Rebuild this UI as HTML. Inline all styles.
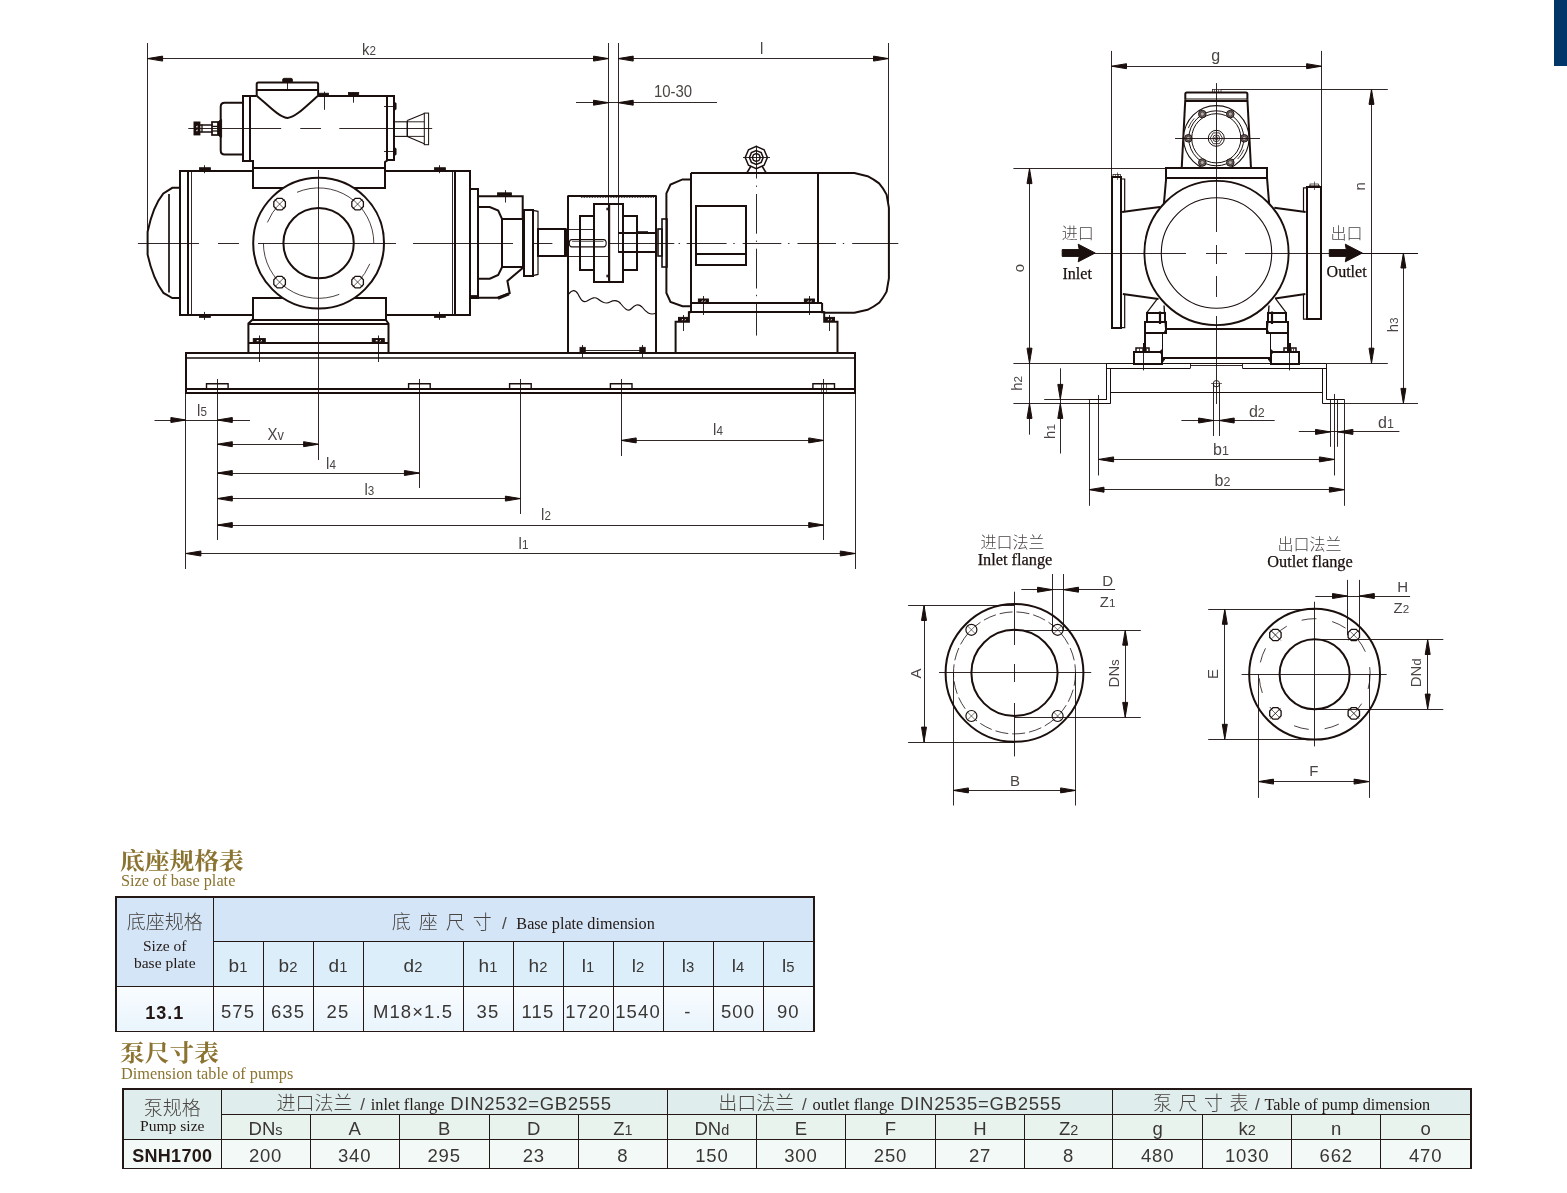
<!DOCTYPE html>
<html lang="zh-CN"><head><meta charset="utf-8"><title>SNH1700 泵尺寸表</title>
<style>
html,body{margin:0;padding:0;background:#fff;-webkit-font-smoothing:antialiased;}
body{width:1567px;height:1193px;position:relative;overflow:hidden;font-family:"Liberation Sans","Noto Sans CJK SC",sans-serif;}
#bar{position:absolute;left:1554px;top:0;width:13px;height:66px;background:#033668;}
svg#dwg{position:absolute;left:0;top:0;}
svg#dwg,table,.h1,.h2{will-change:transform;}
svg#dwg *{stroke:#1a0f0d;}
svg#dwg text,svg#dwg tspan{stroke:none;}
svg#dwg text.d{font-family:"Liberation Sans",sans-serif;fill:#4a4543;}
svg#dwg text.cj{font-family:"Liberation Sans","Noto Sans CJK SC",sans-serif;fill:#4a4543;font-weight:300;}
svg#dwg text.se{font-family:"Liberation Serif",serif;fill:#1a0f0d;stroke:#1a0f0d;stroke-width:0.25px;}
.h1{position:absolute;left:120px;font-family:"Liberation Serif","Noto Serif CJK SC",serif;font-weight:700;font-size:22.6px;line-height:25px;color:#8b7331;white-space:nowrap;transform:scaleX(1.095);transform-origin:0 0;}
.h2{position:absolute;left:121px;font-family:"Liberation Serif",serif;font-size:16.3px;line-height:17px;color:#8b7331;white-space:nowrap;}
table{position:absolute;border-collapse:collapse;table-layout:fixed;color:#2e2a29;}
td{border:1px solid #231815;padding:0;text-align:center;vertical-align:middle;font-size:19px;line-height:1;overflow:hidden;white-space:nowrap;color:#3a3634;}
td small{font-size:78%;}
.se{font-family:"Liberation Serif",serif;}
.cj{font-family:"Liberation Sans","Noto Sans CJK SC",sans-serif;font-weight:300;color:#4a4543;}
#t1{left:115px;top:896px;width:700px;border-top:2px solid #231815;border-left:2px solid #231815;border-right:2px solid #231815;}
#t1 .r1 td{background:#d3e5f6;}
#t1 .r2 td{background:#dceefa;}
#t1 .r3 td{background:linear-gradient(#f9fcff,#e9f4fc);}
#t2{left:122px;top:1088px;width:1350px;border-top:2px solid #231815;border-left:2px solid #231815;border-right:2px solid #231815;}
#t2 .r1 td{background:#dfeeec;}
#t2 .r2 td{background:#e9f3ee;}
#t2 .r3 td{background:#f3f9f6;}
</style></head>
<body>
<div id="bar"></div>
<svg id="dwg" width="1567" height="1193" viewBox="0 0 1567 1193" fill="none">
<g id="main-view">
<line x1="147.5" y1="43.0" x2="147.5" y2="243.0" stroke-width="0.9"/>
<line x1="608.5" y1="43.0" x2="608.5" y2="280.0" stroke-width="0.9"/>
<line x1="618.5" y1="43.0" x2="618.5" y2="252.3" stroke-width="0.9"/>
<line x1="888.5" y1="43.0" x2="888.5" y2="204.0" stroke-width="0.9"/>
<line x1="147.6" y1="58.5" x2="608.5" y2="58.5" stroke-width="0.9"/>
<polygon points="147.6,58.6 162.6,56.1 162.6,61.1" fill="#1a0f0d" stroke="none"/>
<polygon points="608.5,58.6 593.5,56.1 593.5,61.1" fill="#1a0f0d" stroke="none"/>
<line x1="618.2" y1="58.5" x2="888.5" y2="58.5" stroke-width="0.9"/>
<polygon points="618.2,58.6 633.2,56.1 633.2,61.1" fill="#1a0f0d" stroke="none"/>
<polygon points="888.5,58.6 873.5,56.1 873.5,61.1" fill="#1a0f0d" stroke="none"/>
<text transform="translate(369.0 54.5) scale(0.88 1)" font-size="17" text-anchor="middle" class="d">k<tspan font-size="78%">2</tspan></text>
<text transform="translate(761.6 54.0) scale(0.88 1)" font-size="17" text-anchor="middle" class="d">l</text>
<line x1="576.0" y1="102.5" x2="717.0" y2="102.5" stroke-width="0.9"/>
<polygon points="608.5,102.7 593.5,100.2 593.5,105.2" fill="#1a0f0d" stroke="none"/>
<polygon points="618.2,102.7 633.2,100.2 633.2,105.2" fill="#1a0f0d" stroke="none"/>
<text transform="translate(673.0 96.5) scale(0.88 1)" font-size="17" text-anchor="middle" class="d">10-30</text>
<path d="M179.2,187.8 L172.3,187.8 L163.4,193.4 Q153,206 147.6,231.7 L147.6,254.6 Q153,279 163.4,292.9 L172.3,298 L179.2,298" stroke-width="2.0" fill="none"/>
<line x1="169.0" y1="194.0" x2="169.0" y2="292.5" stroke-width="1.7"/>
<rect x="180.0" y="171.0" width="8.0" height="144.0" stroke-width="2.0" fill="none"/>
<line x1="191.5" y1="170.9" x2="191.5" y2="314.6" stroke-width="0.9"/>
<line x1="188.4" y1="171.0" x2="253.0" y2="171.0" stroke-width="2.0"/>
<line x1="385.0" y1="171.0" x2="455.3" y2="171.0" stroke-width="2.0"/>
<line x1="188.4" y1="315.0" x2="253.0" y2="315.0" stroke-width="2.0"/>
<line x1="385.0" y1="315.0" x2="455.3" y2="315.0" stroke-width="2.0"/>
<line x1="452.5" y1="170.9" x2="452.5" y2="314.6" stroke-width="0.9"/>
<rect x="455.0" y="171.0" width="15.0" height="144.0" stroke-width="2.0" fill="none"/>
<rect x="199.4" y="167.7" width="11.0" height="3.0" stroke-width="0.8" fill="#1a0f0d"/>
<line x1="204.5" y1="165.2" x2="204.5" y2="173.2" stroke-width="0.9"/>
<rect x="199.4" y="314.4" width="11.0" height="3.0" stroke-width="0.8" fill="#1a0f0d"/>
<line x1="204.5" y1="311.9" x2="204.5" y2="319.9" stroke-width="0.9"/>
<rect x="434.4" y="167.7" width="11.0" height="3.0" stroke-width="0.8" fill="#1a0f0d"/>
<line x1="439.5" y1="165.2" x2="439.5" y2="173.2" stroke-width="0.9"/>
<rect x="434.4" y="314.4" width="11.0" height="3.0" stroke-width="0.8" fill="#1a0f0d"/>
<line x1="439.5" y1="311.9" x2="439.5" y2="319.9" stroke-width="0.9"/>
<rect x="253.0" y="168.0" width="132.0" height="20.0" stroke-width="2.0" fill="none"/>
<rect x="253.0" y="298.0" width="133.0" height="22.0" stroke-width="2.0" fill="none"/>
<path d="M252.7,319.5 L248.4,323.5 L248.4,352.5" stroke-width="2.0" fill="none"/>
<path d="M385.5,319.5 L388.5,323.5 L388.5,352.5" stroke-width="2.0" fill="none"/>
<line x1="248.4" y1="324.0" x2="388.5" y2="324.0" stroke-width="2.0"/>
<line x1="248.4" y1="343.0" x2="388.5" y2="343.0" stroke-width="2.0"/>
<rect x="253.3" y="338.6" width="12.0" height="3.9" stroke-width="1.0" fill="#1a0f0d"/>
<rect x="256.7" y="340.0" width="1.9" height="1.3" stroke-width="0.1" fill="#fff"/>
<rect x="260.0" y="340.0" width="1.9" height="1.3" stroke-width="0.1" fill="#fff"/>
<line x1="259.5" y1="335.5" x2="259.5" y2="362.0" stroke-width="0.9"/>
<rect x="372.3" y="338.6" width="12.0" height="3.9" stroke-width="1.0" fill="#1a0f0d"/>
<rect x="375.7" y="340.0" width="1.9" height="1.3" stroke-width="0.1" fill="#fff"/>
<rect x="379.0" y="340.0" width="1.9" height="1.3" stroke-width="0.1" fill="#fff"/>
<line x1="378.5" y1="335.5" x2="378.5" y2="362.0" stroke-width="0.9"/>
<circle cx="318.6" cy="243.1" r="65.4" stroke-width="2.0" fill="#fff"/>
<circle cx="318.6" cy="243.1" r="35.2" stroke-width="2.0" fill="none"/>
<path d="M297.0,192.3 A55.2,55.2 0 0 1 373.8,243.1" stroke-width="0.8" fill="none"/>
<path d="M267.4,222.4 A55.2,55.2 0 0 1 279.6,204.1" stroke-width="0.8" fill="none"/>
<path d="M339.3,294.3 A55.2,55.2 0 0 1 263.4,243.1" stroke-width="0.8" fill="none"/>
<path d="M369.8,263.8 A55.2,55.2 0 0 1 357.6,282.1" stroke-width="0.8" fill="none"/>
<path d="M285.4,206.5 L282.0,209.9 L277.2,209.9 L273.8,206.5 L273.8,201.7 L277.2,198.3 L282.0,198.3 L285.4,201.7 Z" stroke-width="1.3" fill="#fff"/>
<line x1="274.6" y1="199.1" x2="284.6" y2="209.1" stroke-width="0.7"/>
<line x1="274.6" y1="209.1" x2="284.6" y2="199.1" stroke-width="0.7"/>
<path d="M285.4,284.5 L282.0,287.9 L277.2,287.9 L273.8,284.5 L273.8,279.7 L277.2,276.3 L282.0,276.3 L285.4,279.7 Z" stroke-width="1.3" fill="#fff"/>
<line x1="274.6" y1="277.1" x2="284.6" y2="287.1" stroke-width="0.7"/>
<line x1="274.6" y1="287.1" x2="284.6" y2="277.1" stroke-width="0.7"/>
<path d="M363.4,206.5 L360.0,209.9 L355.2,209.9 L351.8,206.5 L351.8,201.7 L355.2,198.3 L360.0,198.3 L363.4,201.7 Z" stroke-width="1.3" fill="#fff"/>
<line x1="352.6" y1="199.1" x2="362.6" y2="209.1" stroke-width="0.7"/>
<line x1="352.6" y1="209.1" x2="362.6" y2="199.1" stroke-width="0.7"/>
<path d="M363.4,284.5 L360.0,287.9 L355.2,287.9 L351.8,284.5 L351.8,279.7 L355.2,276.3 L360.0,276.3 L363.4,279.7 Z" stroke-width="1.3" fill="#fff"/>
<line x1="352.6" y1="277.1" x2="362.6" y2="287.1" stroke-width="0.7"/>
<line x1="352.6" y1="287.1" x2="362.6" y2="277.1" stroke-width="0.7"/>
<line x1="318.5" y1="170.0" x2="318.5" y2="460.0" stroke-width="0.9"/>
<line x1="137.9" y1="243.5" x2="199.0" y2="243.5" stroke-width="0.9"/>
<line x1="218.0" y1="243.5" x2="239.0" y2="243.5" stroke-width="0.9"/>
<line x1="258.0" y1="243.5" x2="396.0" y2="243.5" stroke-width="0.9"/>
<line x1="413.0" y1="243.5" x2="513.0" y2="243.5" stroke-width="0.9"/>
<line x1="533.0" y1="243.5" x2="552.4" y2="243.5" stroke-width="0.9"/>
<line x1="608.4" y1="243.5" x2="674.3" y2="243.5" stroke-width="0.9"/>
<line x1="678.6" y1="243.5" x2="680.0" y2="243.5" stroke-width="0.9"/>
<line x1="686.7" y1="243.5" x2="726.6" y2="243.5" stroke-width="0.9"/>
<line x1="733.3" y1="243.5" x2="734.7" y2="243.5" stroke-width="0.9"/>
<line x1="742.7" y1="243.5" x2="781.3" y2="243.5" stroke-width="0.9"/>
<line x1="788.1" y1="243.5" x2="789.5" y2="243.5" stroke-width="0.9"/>
<line x1="797.5" y1="243.5" x2="836.0" y2="243.5" stroke-width="0.9"/>
<line x1="842.8" y1="243.5" x2="844.2" y2="243.5" stroke-width="0.9"/>
<line x1="852.2" y1="243.5" x2="898.3" y2="243.5" stroke-width="0.9"/>
<line x1="188.3" y1="128.5" x2="281.2" y2="128.5" stroke-width="0.9"/>
<line x1="300.3" y1="128.5" x2="321.0" y2="128.5" stroke-width="0.9"/>
<line x1="339.3" y1="128.5" x2="432.2" y2="128.5" stroke-width="0.9"/>
<rect x="282.6" y="78.3" width="9.9" height="4.1" stroke-width="0.8" fill="#1a0f0d" rx="1.5"/>
<path d="M256.7,95.7 L256.7,84 Q256.7,82.4 258.3,82.4 L316.5,82.4 Q318.1,82.4 318.1,84 L318.1,95.7" stroke-width="2.0" fill="none"/>
<line x1="256.7" y1="90.0" x2="318.1" y2="90.0" stroke-width="2.0"/>
<line x1="287.5" y1="82.4" x2="287.5" y2="89.9" stroke-width="0.9"/>
<path d="M256.7,95.7 C268,105 278,116.5 287.4,118.1 C297,116.5 307,105 318.1,95.7" stroke-width="2.0" fill="none"/>
<rect x="243.0" y="96.0" width="7.0" height="65.0" stroke-width="2.0" fill="none"/>
<line x1="250.5" y1="96.0" x2="256.7" y2="96.0" stroke-width="2.0"/>
<line x1="318.1" y1="96.0" x2="387.4" y2="96.0" stroke-width="2.0"/>
<path d="M250.5,160.9 L253.0,160.9 L253.0,167.9" stroke-width="2.0" fill="none"/>
<path d="M387.4,160.4 L385.0,162.0 L385.0,167.9" stroke-width="2.0" fill="none"/>
<line x1="387.0" y1="95.7" x2="387.0" y2="160.4" stroke-width="2.0"/>
<rect x="387.0" y="96.0" width="7.0" height="64.0" stroke-width="2.0" fill="none"/>
<line x1="384.0" y1="106.5" x2="396.0" y2="106.5" stroke-width="0.9"/>
<rect x="394.4" y="102.7" width="1.8" height="7.0" stroke-width="0.6" fill="#1a0f0d" rx="0.8"/>
<line x1="384.0" y1="151.5" x2="396.0" y2="151.5" stroke-width="0.9"/>
<rect x="394.4" y="148.1" width="1.8" height="7.0" stroke-width="0.6" fill="#1a0f0d" rx="0.8"/>
<rect x="318.6" y="93.2" width="9.9" height="2.5" stroke-width="0.8" fill="#1a0f0d"/>
<line x1="324.5" y1="91.6" x2="324.5" y2="109.8" stroke-width="0.9"/>
<rect x="348.4" y="92.4" width="10.3" height="3.3" stroke-width="0.8" fill="#1a0f0d"/>
<line x1="353.5" y1="92.4" x2="353.5" y2="102.7" stroke-width="0.9"/>
<line x1="351.5" y1="94.5" x2="355.5" y2="94.5" stroke-width="0.9"/>
<path d="M242.6,102.7 L224.7,102.7 Q220.7,102.7 220.7,106.7 L220.7,150.6 Q220.7,154.6 224.7,154.6 L242.6,154.6" stroke-width="2.0" fill="none"/>
<rect x="194.3" y="122.3" width="5.3" height="12.3" stroke-width="1.6" fill="#1a0f0d"/>
<rect x="196.2" y="125.6" width="1.4" height="1.8" stroke-width="0.1" fill="#fff"/>
<rect x="196.2" y="129.4" width="1.4" height="1.8" stroke-width="0.1" fill="#fff"/>
<line x1="199.6" y1="125.0" x2="212.4" y2="125.0" stroke-width="1.5"/>
<line x1="199.6" y1="132.0" x2="212.4" y2="132.0" stroke-width="1.5"/>
<line x1="202.0" y1="124.6" x2="202.0" y2="132.2" stroke-width="1.3"/>
<rect x="212.0" y="122.0" width="6.0" height="13.0" stroke-width="1.7" fill="none"/>
<line x1="212.4" y1="126.4" x2="218.4" y2="126.4" stroke-width="1.3"/>
<line x1="212.4" y1="131.0" x2="218.4" y2="131.0" stroke-width="1.3"/>
<path d="M218.0,122.1 L220.6,119.6 L221.6,119.6 L221.6,137.2 L220.6,137.2 L218.0,134.9 Z" stroke-width="0.8" fill="#1a0f0d"/>
<rect x="394.4" y="121.8" width="12.9" height="14.6" stroke-width="1.1" fill="none"/>
<path d="M407.3,120.6 L424.3,113.5" stroke-width="1.1" fill="none"/>
<path d="M407.3,136.4 L424.3,143.8" stroke-width="1.1" fill="none"/>
<line x1="407.3" y1="120.6" x2="407.3" y2="136.4" stroke-width="1.2"/>
<path d="M407.3,121.8 L424.3,121.8 M407.3,136.4 L424.3,136.4" stroke-width="0.9" fill="none"/>
<rect x="424.3" y="113.1" width="4.3" height="31.6" stroke-width="1.0" fill="none"/>
<rect x="470.0" y="189.0" width="8.0" height="109.0" stroke-width="2.0" fill="none"/>
<rect x="470.2" y="295.5" width="7.8" height="2.3" stroke-width="0.8" fill="#1a0f0d"/>
<path d="M478.0,196.3 L522.7,196.3 L522.7,218.9" stroke-width="2.0" fill="none"/>
<rect x="502.0" y="219.0" width="21.0" height="48.0" stroke-width="2.0" fill="none"/>
<path d="M478,207 L489.8,207 L498.2,210.5 L502,218.9 M502,267.2 L498.2,274.9 L489.8,278.7 L478,278.7" stroke-width="2.0" fill="none"/>
<path d="M478.0,297.8 L497.4,297.8 L509.7,293.2 L507.4,281.0 L522.7,267.9" stroke-width="2.0" fill="none"/>
<path d="M498,298.3 L509,293.8" stroke-width="3" fill="none"/>
<rect x="497.5" y="192.8" width="14.0" height="2.8" stroke-width="0.8" fill="#1a0f0d"/>
<line x1="505.5" y1="190.2" x2="505.5" y2="202.5" stroke-width="0.9"/>
<line x1="500.0" y1="194.5" x2="510.0" y2="194.5" stroke-width="0.9"/>
<rect x="524.0" y="210.0" width="9.0" height="66.0" stroke-width="2.0" fill="none"/>
<path d="M532.7,210.3 L538.0,211.3 L538.0,274.4 L532.7,275.6" stroke-width="1.2" fill="none"/>
<rect x="538.0" y="229.0" width="27.0" height="27.0" stroke-width="2.0" fill="none"/>
<rect x="564.8" y="228.9" width="3.1" height="27.5" stroke-width="1" fill="#1a0f0d"/>
<line x1="568.0" y1="195.5" x2="568.0" y2="352.5" stroke-width="2.0"/>
<line x1="656.0" y1="195.5" x2="656.0" y2="352.5" stroke-width="2.0"/>
<line x1="567.9" y1="196.0" x2="656.3" y2="196.0" stroke-width="2.0"/>
<line x1="581.0" y1="197.5" x2="654.0" y2="197.5" stroke-width="0.9" stroke-dasharray="0.8 0.8"/>
<rect x="580.0" y="216.0" width="14.0" height="54.0" stroke-width="2.0" fill="none"/>
<rect x="594.0" y="204.0" width="29.0" height="78.0" stroke-width="2.0" fill="none"/>
<rect x="608.3" y="203.9" width="1.6" height="77.8" stroke-width="0.6" fill="#1a0f0d"/>
<rect x="623.0" y="216.0" width="14.0" height="54.0" stroke-width="2.0" fill="none"/>
<line x1="567.9" y1="229.5" x2="593.9" y2="229.5" stroke-width="0.9"/>
<line x1="567.9" y1="256.5" x2="608.0" y2="256.5" stroke-width="0.9"/>
<path d="M571.8,239.6 L603.5,239.6 Q606.2,239.6 606.2,243.3 Q606.2,246.9 603.5,246.9 L571.8,246.9 Q569.3,246.9 569.3,243.3 Q569.3,239.6 571.8,239.6 Z" stroke-width="1.1" fill="none"/>
<line x1="572.0" y1="241.5" x2="603.5" y2="241.5" stroke-width="0.6"/>
<line x1="618.2" y1="233.0" x2="656.3" y2="233.0" stroke-width="2.0"/>
<line x1="618.2" y1="252.0" x2="656.3" y2="252.0" stroke-width="2.0"/>
<line x1="637.3" y1="232.0" x2="648.0" y2="232.0" stroke-width="1.6"/>
<rect x="606.8" y="208.0" width="1.0" height="2.0" stroke-width="0.6" fill="#1a0f0d"/>
<rect x="606.8" y="275.0" width="1.0" height="2.0" stroke-width="0.6" fill="#1a0f0d"/>
<line x1="609.5" y1="256.0" x2="609.5" y2="281.0" stroke-width="0.6"/>
<path d="M568.6,294 C572,290 575,289 578,294 C581,300 583,303 587,301 C591,299 594,296 598,299 C603,303 606,304 610,302 C614,300 618,300 621,304 C625,309 628,312 631,309 C635,305 638,303 642,307 C646,312 650,316 656.3,313" stroke-width="1.2" fill="none"/>
<line x1="582.0" y1="350.5" x2="642.0" y2="350.5" stroke-width="0.9"/>
<rect x="579.9" y="347.2" width="5.6" height="5.1" stroke-width="0.6" fill="#1a0f0d"/>
<line x1="582.5" y1="345.0" x2="582.5" y2="357.5" stroke-width="0.9"/>
<rect x="639.7" y="347.2" width="5.6" height="5.1" stroke-width="0.6" fill="#1a0f0d"/>
<line x1="642.5" y1="345.0" x2="642.5" y2="357.5" stroke-width="0.9"/>
<rect x="658.0" y="229.0" width="4.0" height="27.0" stroke-width="1.6" fill="none"/>
<rect x="662.0" y="219.0" width="5.0" height="48.0" stroke-width="1.6" fill="none"/>
<path d="M690.9,179.4 L682.5,179.4 L670.5,184.5 L666.4,193.4 L666.4,293 L670.5,301.9 L682.5,306.2 L690.9,306.2" stroke-width="2.0" fill="none"/>
<path d="M690.9,173 L854.4,173 L867.6,176.2 Q874,179.5 879.1,183.4 Q883.5,188.5 886.6,194.6 L888.9,207.8 L888.9,278.4 L886.6,291.6 Q883.5,297.5 879.1,302.8 Q874,306.8 867.6,309.8 L854.4,312.8 L824.2,312.8" stroke-width="2.0" fill="none" stroke-linejoin="round"/>
<line x1="691.0" y1="173.0" x2="691.0" y2="312.8" stroke-width="2.0"/>
<line x1="818.0" y1="173.0" x2="818.0" y2="303.0" stroke-width="2.0"/>
<line x1="690.9" y1="303.0" x2="822.1" y2="303.0" stroke-width="2.0"/>
<path d="M690.9,312.3 L688.9,312.3 L688.9,321.7 L675.6,321.7 L675.6,352.5" stroke-width="2.0" fill="none"/>
<path d="M822.1,303.0 L822.1,312.3 L824.2,312.3 L824.2,321.7 L837.5,321.7 L837.5,352.5" stroke-width="2.0" fill="none"/>
<line x1="688.9" y1="312.0" x2="824.2" y2="312.0" stroke-width="2.0"/>
<rect x="696.0" y="206.0" width="50.0" height="59.0" stroke-width="2.0" fill="none"/>
<line x1="695.5" y1="254.0" x2="746.3" y2="254.0" stroke-width="2.0"/>
<rect x="698.4" y="299.0" width="10.0" height="3.8" stroke-width="1.0" fill="#1a0f0d"/>
<rect x="701.2" y="300.4" width="1.6" height="1.2" stroke-width="0.1" fill="#fff"/>
<rect x="704.0" y="300.4" width="1.6" height="1.2" stroke-width="0.1" fill="#fff"/>
<line x1="703.5" y1="296.0" x2="703.5" y2="315.0" stroke-width="0.9"/>
<rect x="804.4" y="299.0" width="10.0" height="3.8" stroke-width="1.0" fill="#1a0f0d"/>
<rect x="807.2" y="300.4" width="1.6" height="1.2" stroke-width="0.1" fill="#fff"/>
<rect x="810.0" y="300.4" width="1.6" height="1.2" stroke-width="0.1" fill="#fff"/>
<line x1="809.5" y1="296.0" x2="809.5" y2="315.0" stroke-width="0.9"/>
<rect x="678.5" y="317.4" width="10.0" height="4.1" stroke-width="1.0" fill="#1a0f0d"/>
<rect x="681.3" y="319.0" width="1.6" height="1.2" stroke-width="0.1" fill="#fff"/>
<rect x="684.1" y="319.0" width="1.6" height="1.2" stroke-width="0.1" fill="#fff"/>
<line x1="683.5" y1="315.0" x2="683.5" y2="331.0" stroke-width="0.9"/>
<rect x="824.5" y="317.4" width="10.0" height="4.1" stroke-width="1.0" fill="#1a0f0d"/>
<rect x="827.3" y="319.0" width="1.6" height="1.2" stroke-width="0.1" fill="#fff"/>
<rect x="830.1" y="319.0" width="1.6" height="1.2" stroke-width="0.1" fill="#fff"/>
<line x1="829.5" y1="315.0" x2="829.5" y2="331.0" stroke-width="0.9"/>
<path d="M756.3,146.4 L764.1,149.7 L767.4,157.5 L764.1,165.3 L756.3,168.6 L748.5,165.3 L745.2,157.5 L748.5,149.7 Z" stroke-width="1.5" fill="none"/>
<path d="M756.3,150.6 L761.2,152.6 L763.2,157.5 L761.2,162.4 L756.3,164.4 L751.4,162.4 L749.4,157.5 L751.4,152.6 Z" stroke-width="1.5" fill="none"/>
<path d="M756.3,153.5 L759.1,154.7 L760.3,157.5 L759.1,160.3 L756.3,161.5 L753.5,160.3 L752.3,157.5 L753.5,154.7 Z" stroke-width="1.4" fill="none"/>
<line x1="743.0" y1="157.5" x2="770.0" y2="157.5" stroke-width="0.9"/>
<path d="M751.0,166.0 L746.5,173.5" stroke-width="1.5" fill="none"/>
<path d="M762.0,166.0 L766.5,173.5" stroke-width="1.5" fill="none"/>
<line x1="756.5" y1="145.7" x2="756.5" y2="178.5" stroke-width="0.9"/>
<line x1="756.5" y1="185.6" x2="756.5" y2="186.9" stroke-width="0.9"/>
<line x1="756.5" y1="194.0" x2="756.5" y2="233.7" stroke-width="0.9"/>
<line x1="756.5" y1="240.6" x2="756.5" y2="241.9" stroke-width="0.9"/>
<line x1="756.5" y1="248.7" x2="756.5" y2="288.5" stroke-width="0.9"/>
<line x1="756.5" y1="294.8" x2="756.5" y2="296.2" stroke-width="0.9"/>
<line x1="756.5" y1="303.5" x2="756.5" y2="335.6" stroke-width="0.9"/>
<rect x="186.0" y="353.0" width="669.0" height="40.0" stroke-width="2.0" fill="none"/>
<line x1="185.9" y1="358.0" x2="855.3" y2="358.0" stroke-width="1.6"/>
<line x1="185.9" y1="389.0" x2="855.3" y2="389.0" stroke-width="2.0"/>
<path d="M206.5,388.8 L206.5,383.7 L228.1,383.7 L228.1,388.8" stroke-width="1.4" fill="none"/>
<path d="M408.6,388.8 L408.6,383.7 L430.2,383.7 L430.2,388.8" stroke-width="1.4" fill="none"/>
<path d="M509.6,388.8 L509.6,383.7 L531.2,383.7 L531.2,388.8" stroke-width="1.4" fill="none"/>
<path d="M610.4,388.8 L610.4,383.7 L632.0,383.7 L632.0,388.8" stroke-width="1.4" fill="none"/>
<path d="M812.9,388.8 L812.9,383.7 L834.5,383.7 L834.5,388.8" stroke-width="1.4" fill="none"/>
<line x1="821.5" y1="384.0" x2="821.5" y2="392.0" stroke-width="0.6"/>
<line x1="826.5" y1="384.0" x2="826.5" y2="392.0" stroke-width="0.6"/>
<line x1="185.5" y1="392.7" x2="185.5" y2="569.0" stroke-width="0.9"/>
<line x1="855.5" y1="392.7" x2="855.5" y2="569.0" stroke-width="0.9"/>
<line x1="217.5" y1="379.0" x2="217.5" y2="540.0" stroke-width="0.9"/>
<line x1="823.5" y1="379.0" x2="823.5" y2="540.0" stroke-width="0.9"/>
<line x1="419.5" y1="379.0" x2="419.5" y2="488.0" stroke-width="0.9"/>
<line x1="520.5" y1="379.0" x2="520.5" y2="514.0" stroke-width="0.9"/>
<line x1="621.5" y1="379.0" x2="621.5" y2="456.0" stroke-width="0.9"/>
<line x1="154.5" y1="420.5" x2="250.0" y2="420.5" stroke-width="0.9"/>
<polygon points="185.9,420.0 170.9,417.5 170.9,422.5" fill="#1a0f0d" stroke="none"/>
<polygon points="217.3,420.0 232.3,417.5 232.3,422.5" fill="#1a0f0d" stroke="none"/>
<text transform="translate(202.0 416.0) scale(0.88 1)" font-size="17" text-anchor="middle" class="d">l<tspan font-size="78%">5</tspan></text>
<line x1="217.3" y1="444.5" x2="318.6" y2="444.5" stroke-width="0.9"/>
<polygon points="217.3,444.2 232.3,441.7 232.3,446.7" fill="#1a0f0d" stroke="none"/>
<polygon points="318.6,444.2 303.6,441.7 303.6,446.7" fill="#1a0f0d" stroke="none"/>
<text transform="translate(275.7 440.0) scale(0.88 1)" font-size="17" text-anchor="middle" class="d">X<tspan font-size="85%">v</tspan></text>
<line x1="217.3" y1="473.5" x2="419.4" y2="473.5" stroke-width="0.9"/>
<polygon points="217.3,473.0 232.3,470.5 232.3,475.5" fill="#1a0f0d" stroke="none"/>
<polygon points="419.4,473.0 404.4,470.5 404.4,475.5" fill="#1a0f0d" stroke="none"/>
<text transform="translate(331.0 468.5) scale(0.88 1)" font-size="17" text-anchor="middle" class="d">l<tspan font-size="78%">4</tspan></text>
<line x1="217.3" y1="498.5" x2="520.4" y2="498.5" stroke-width="0.9"/>
<polygon points="217.3,498.6 232.3,496.1 232.3,501.1" fill="#1a0f0d" stroke="none"/>
<polygon points="520.4,498.6 505.4,496.1 505.4,501.1" fill="#1a0f0d" stroke="none"/>
<text transform="translate(369.4 494.5) scale(0.88 1)" font-size="17" text-anchor="middle" class="d">l<tspan font-size="78%">3</tspan></text>
<line x1="217.3" y1="525.5" x2="823.7" y2="525.5" stroke-width="0.9"/>
<polygon points="217.3,525.0 232.3,522.5 232.3,527.5" fill="#1a0f0d" stroke="none"/>
<polygon points="823.7,525.0 808.7,522.5 808.7,527.5" fill="#1a0f0d" stroke="none"/>
<text transform="translate(546.0 520.0) scale(0.88 1)" font-size="17" text-anchor="middle" class="d">l<tspan font-size="78%">2</tspan></text>
<line x1="185.9" y1="553.5" x2="855.3" y2="553.5" stroke-width="0.9"/>
<polygon points="185.9,553.5 200.9,551.0 200.9,556.0" fill="#1a0f0d" stroke="none"/>
<polygon points="855.3,553.5 840.3,551.0 840.3,556.0" fill="#1a0f0d" stroke="none"/>
<text transform="translate(523.5 549.0) scale(0.88 1)" font-size="17" text-anchor="middle" class="d">l<tspan font-size="78%">1</tspan></text>
<line x1="621.2" y1="440.5" x2="823.7" y2="440.5" stroke-width="0.9"/>
<polygon points="621.2,440.4 636.2,437.9 636.2,442.9" fill="#1a0f0d" stroke="none"/>
<polygon points="823.7,440.4 808.7,437.9 808.7,442.9" fill="#1a0f0d" stroke="none"/>
<text transform="translate(718.0 435.0) scale(0.88 1)" font-size="17" text-anchor="middle" class="d">l<tspan font-size="78%">4</tspan></text>
</g>
<g id="end-view">
<line x1="1111.5" y1="50.9" x2="1111.5" y2="177.0" stroke-width="0.9"/>
<line x1="1321.5" y1="50.9" x2="1321.5" y2="186.0" stroke-width="0.9"/>
<line x1="1111.5" y1="66.5" x2="1321.6" y2="66.5" stroke-width="0.9"/>
<polygon points="1111.5,66.2 1126.5,63.7 1126.5,68.7" fill="#1a0f0d" stroke="none"/>
<polygon points="1321.6,66.2 1306.6,63.7 1306.6,68.7" fill="#1a0f0d" stroke="none"/>
<text transform="translate(1215.8 60.5)" font-size="16" text-anchor="middle" class="d">g</text>
<line x1="1221.0" y1="89.5" x2="1387.8" y2="89.5" stroke-width="0.9"/>
<line x1="1371.5" y1="89.4" x2="1371.5" y2="363.2" stroke-width="0.9"/>
<polygon points="1371.5,89.4 1369.0,104.4 1374.0,104.4" fill="#1a0f0d" stroke="none"/>
<polygon points="1371.5,363.2 1369.0,348.2 1374.0,348.2" fill="#1a0f0d" stroke="none"/>
<text transform="translate(1365.0 186.3) rotate(-90)" font-size="15" text-anchor="middle" class="d">n</text>
<line x1="1013.4" y1="168.5" x2="1166.0" y2="168.5" stroke-width="0.9"/>
<line x1="1013.4" y1="363.5" x2="1107.0" y2="363.5" stroke-width="0.9"/>
<line x1="1326.5" y1="363.5" x2="1387.8" y2="363.5" stroke-width="0.9"/>
<line x1="1029.5" y1="168.6" x2="1029.5" y2="363.2" stroke-width="0.9"/>
<polygon points="1029.5,168.6 1027.0,183.6 1032.0,183.6" fill="#1a0f0d" stroke="none"/>
<polygon points="1029.5,363.2 1027.0,348.2 1032.0,348.2" fill="#1a0f0d" stroke="none"/>
<text transform="translate(1023.5 268.0) rotate(-90)" font-size="15" text-anchor="middle" class="d">o</text>
<line x1="1362.0" y1="253.5" x2="1418.0" y2="253.5" stroke-width="0.9"/>
<line x1="1344.4" y1="403.5" x2="1418.0" y2="403.5" stroke-width="0.9"/>
<line x1="1403.5" y1="253.0" x2="1403.5" y2="403.4" stroke-width="0.9"/>
<polygon points="1403.4,253.0 1400.9,268.0 1405.9,268.0" fill="#1a0f0d" stroke="none"/>
<polygon points="1403.4,403.4 1400.9,388.4 1405.9,388.4" fill="#1a0f0d" stroke="none"/>
<text transform="translate(1397.5 324.8) rotate(-90)" font-size="15" text-anchor="middle" class="d">h<tspan font-size="78%">3</tspan></text>
<line x1="1013.4" y1="403.5" x2="1110.4" y2="403.5" stroke-width="0.9"/>
<line x1="1029.5" y1="363.2" x2="1029.5" y2="434.7" stroke-width="0.9"/>
<polygon points="1029.5,403.4 1027.0,418.4 1032.0,418.4" fill="#1a0f0d" stroke="none"/>
<text transform="translate(1021.5 383.3) rotate(-90)" font-size="15" text-anchor="middle" class="d">h<tspan font-size="78%">2</tspan></text>
<line x1="1044.2" y1="399.5" x2="1107.0" y2="399.5" stroke-width="0.9"/>
<line x1="1060.5" y1="368.3" x2="1060.5" y2="453.5" stroke-width="0.9"/>
<polygon points="1060.3,399.4 1057.8,384.4 1062.8,384.4" fill="#1a0f0d" stroke="none"/>
<polygon points="1060.3,403.4 1057.8,418.4 1062.8,418.4" fill="#1a0f0d" stroke="none"/>
<text transform="translate(1054.5 431.5) rotate(-90)" font-size="15" text-anchor="middle" class="d">h<tspan font-size="78%">1</tspan></text>
<rect x="1212.5" y="89.4" width="8.5" height="3.1" stroke-width="0.7" fill="none"/>
<line x1="1214.5" y1="89.4" x2="1214.5" y2="92.5" stroke-width="0.6"/>
<line x1="1216.5" y1="89.4" x2="1216.5" y2="92.5" stroke-width="0.6"/>
<line x1="1218.5" y1="89.4" x2="1218.5" y2="92.5" stroke-width="0.6"/>
<path d="M1185.3,99.2 L1185.3,94 Q1185.3,92.5 1186.8,92.5 L1245.9,92.5 Q1247.4,92.5 1247.4,94 L1247.4,99.2" stroke-width="2.0" fill="none"/>
<line x1="1185.3" y1="99.0" x2="1247.4" y2="99.0" stroke-width="1.2"/>
<line x1="1185.3" y1="101.0" x2="1247.4" y2="101.0" stroke-width="2.0"/>
<path d="M1185.3,99.2 L1181.7,168.4" stroke-width="2.0" fill="none"/>
<path d="M1247.4,99.2 L1251.0,168.4" stroke-width="2.0" fill="none"/>
<circle cx="1216.3" cy="138.3" r="32.7" stroke-width="1.1" fill="#fff"/>
<circle cx="1216.3" cy="138.3" r="27.5" stroke-width="1.0" fill="none"/>
<circle cx="1216.3" cy="138.3" r="24.6" stroke-width="1.0" fill="none"/>
<circle cx="1244.3" cy="138.3" r="3.8" stroke-width="0.9" fill="#6b625f"/>
<circle cx="1244.3" cy="138.3" r="2.0" stroke-width="0.5" fill="#b5aeab"/>
<circle cx="1230.3" cy="162.5" r="3.8" stroke-width="0.9" fill="#6b625f"/>
<circle cx="1230.3" cy="162.5" r="2.0" stroke-width="0.5" fill="#b5aeab"/>
<circle cx="1202.3" cy="162.5" r="3.8" stroke-width="0.9" fill="#6b625f"/>
<circle cx="1202.3" cy="162.5" r="2.0" stroke-width="0.5" fill="#b5aeab"/>
<circle cx="1188.3" cy="138.3" r="3.8" stroke-width="0.9" fill="#6b625f"/>
<circle cx="1188.3" cy="138.3" r="2.0" stroke-width="0.5" fill="#b5aeab"/>
<circle cx="1202.3" cy="114.1" r="3.8" stroke-width="0.9" fill="#6b625f"/>
<circle cx="1202.3" cy="114.1" r="2.0" stroke-width="0.5" fill="#b5aeab"/>
<circle cx="1230.3" cy="114.1" r="3.8" stroke-width="0.9" fill="#6b625f"/>
<circle cx="1230.3" cy="114.1" r="2.0" stroke-width="0.5" fill="#b5aeab"/>
<path d="M1188.3,128.1 A29.8,29.8 0 0 1 1194.2,118.4" stroke-width="0.8" fill="none"/>
<path d="M1243.9,149.5 A29.8,29.8 0 0 1 1237.7,159.0" stroke-width="0.8" fill="none"/>
<circle cx="1216.3" cy="138.3" r="8.0" stroke-width="1.0" fill="none"/>
<circle cx="1216.3" cy="138.3" r="3.4" stroke-width="0.8" fill="none"/>
<circle cx="1216.3" cy="138.3" r="1.7" stroke-width="0.7" fill="none"/>
<path d="M1222.5,138.3 L1219.4,143.7 L1213.2,143.7 L1210.1,138.3 L1213.2,132.9 L1219.4,132.9 Z" stroke-width="0.8" fill="none"/>
<line x1="1175.0" y1="138.5" x2="1260.0" y2="138.5" stroke-width="0.9"/>
<rect x="1166.0" y="168.0" width="101.0" height="10.0" stroke-width="2.0" fill="#fff"/>
<path d="M1166.2,177.8 L1163.5,208.0" stroke-width="2.0" fill="none"/>
<path d="M1267.0,177.8 L1269.5,208.0" stroke-width="2.0" fill="none"/>
<rect x="1112.0" y="177.0" width="9.0" height="151.0" stroke-width="2.0" fill="none"/>
<path d="M1121.1,179 L1124.7,179 L1124.7,212 M1124.7,294 L1124.7,327.6 L1121.1,327.6" stroke-width="1.2" fill="none"/>
<rect x="1307.0" y="187.0" width="14.0" height="132.0" stroke-width="2.0" fill="none"/>
<path d="M1306.8,187.8 L1303.5,187.8 L1303.5,212.1 M1303.5,294.1 L1303.5,319.1 L1306.8,319.1" stroke-width="1.2" fill="none"/>
<rect x="1113.0" y="174.4" width="7.5" height="2.7" stroke-width="0.7" fill="none"/>
<line x1="1115.5" y1="174.4" x2="1115.5" y2="177.1" stroke-width="0.6"/>
<line x1="1118.5" y1="174.4" x2="1118.5" y2="177.1" stroke-width="0.6"/>
<line x1="1117.5" y1="172.5" x2="1117.5" y2="180.0" stroke-width="0.6"/>
<rect x="1310.0" y="184.0" width="8.5" height="3.1" stroke-width="0.7" fill="none"/>
<line x1="1314.5" y1="181.5" x2="1314.5" y2="190.0" stroke-width="0.6"/>
<line x1="1309.0" y1="185.5" x2="1320.0" y2="185.5" stroke-width="0.6"/>
<path d="M1122.1,212.0 L1160.0,207.0" stroke-width="2.0" fill="none"/>
<path d="M1122.8,294.0 L1158.5,299.0" stroke-width="2.0" fill="none"/>
<path d="M1305.6,212.1 L1274.3,207.8" stroke-width="2.0" fill="none"/>
<path d="M1305.4,294.1 L1275.0,298.4" stroke-width="2.0" fill="none"/>
<path d="M1157.1,299.1 L1146.7,312.9" stroke-width="1.2" fill="none"/>
<path d="M1164.0,305.5 L1165.7,329.0" stroke-width="1.4" fill="none"/>
<rect x="1147.0" y="313.0" width="18.0" height="9.0" stroke-width="2.0" fill="none"/>
<line x1="1160.0" y1="311.5" x2="1160.0" y2="324.0" stroke-width="2.2"/>
<rect x="1145.0" y="322.0" width="21.0" height="11.0" stroke-width="2.0" fill="none"/>
<line x1="1145.0" y1="332.8" x2="1145.0" y2="352.0" stroke-width="2.0"/>
<line x1="1144.0" y1="343.0" x2="1144.0" y2="352.0" stroke-width="2"/>
<line x1="1162.5" y1="332.8" x2="1162.5" y2="363.0" stroke-width="1.0"/>
<rect x="1134.0" y="352.0" width="28.0" height="12.0" stroke-width="2.0" fill="none"/>
<rect x="1136.0" y="348.0" width="13.0" height="4.0" stroke-width="1.5" fill="none"/>
<line x1="1139.5" y1="348.5" x2="1139.5" y2="352.0" stroke-width="0.7"/>
<line x1="1142.5" y1="348.5" x2="1142.5" y2="352.0" stroke-width="0.7"/>
<line x1="1146.5" y1="348.5" x2="1146.5" y2="352.0" stroke-width="0.7"/>
<line x1="1143.5" y1="344.3" x2="1143.5" y2="370.4" stroke-width="0.9"/>
<path d="M1165.9,328.7 L1164.0,333.5 L1165.9,333.5 Z" stroke-width="1" fill="#1a0f0d"/>
<path d="M1162.0,349.5 L1159.5,352.0 L1162.0,354.5 Z" stroke-width="1" fill="#1a0f0d"/>
<path d="M1162.0,358.1 L1165.5,358.1 L1162.0,363.0 Z" stroke-width="1" fill="#1a0f0d"/>
<path d="M1275.9,299.1 L1286.3,312.9" stroke-width="1.2" fill="none"/>
<path d="M1269.0,305.5 L1267.3,329.0" stroke-width="1.4" fill="none"/>
<rect x="1268.0" y="313.0" width="18.0" height="9.0" stroke-width="2.0" fill="none"/>
<line x1="1272.0" y1="311.5" x2="1272.0" y2="324.0" stroke-width="2.2"/>
<rect x="1267.0" y="322.0" width="21.0" height="11.0" stroke-width="2.0" fill="none"/>
<line x1="1288.0" y1="332.8" x2="1288.0" y2="352.0" stroke-width="2.0"/>
<line x1="1290.0" y1="343.0" x2="1290.0" y2="352.0" stroke-width="2"/>
<line x1="1270.5" y1="332.8" x2="1270.5" y2="363.0" stroke-width="1.0"/>
<rect x="1271.0" y="352.0" width="28.0" height="12.0" stroke-width="2.0" fill="none"/>
<rect x="1284.0" y="348.0" width="12.0" height="4.0" stroke-width="1.5" fill="none"/>
<line x1="1293.5" y1="348.5" x2="1293.5" y2="352.0" stroke-width="0.7"/>
<line x1="1291.5" y1="348.5" x2="1291.5" y2="352.0" stroke-width="0.7"/>
<line x1="1287.5" y1="348.5" x2="1287.5" y2="352.0" stroke-width="0.7"/>
<line x1="1289.5" y1="344.3" x2="1289.5" y2="370.4" stroke-width="0.9"/>
<path d="M1267.1,328.7 L1269.0,333.5 L1267.1,333.5 Z" stroke-width="1" fill="#1a0f0d"/>
<path d="M1271.0,349.5 L1273.5,352.0 L1271.0,354.5 Z" stroke-width="1" fill="#1a0f0d"/>
<path d="M1271.0,358.1 L1267.5,358.1 L1271.0,363.0 Z" stroke-width="1" fill="#1a0f0d"/>
<line x1="1165.9" y1="329.0" x2="1267.0" y2="329.0" stroke-width="2.0"/>
<line x1="1162.0" y1="358.0" x2="1270.8" y2="358.0" stroke-width="2.0"/>
<circle cx="1216.5" cy="253.0" r="72.1" stroke-width="1.9" fill="#fff"/>
<circle cx="1216.5" cy="253.0" r="55.2" stroke-width="1.1" fill="none"/>
<line x1="1062.0" y1="253.5" x2="1186.0" y2="253.5" stroke-width="0.9"/>
<line x1="1206.0" y1="253.5" x2="1227.0" y2="253.5" stroke-width="0.9"/>
<line x1="1245.0" y1="253.5" x2="1418.0" y2="253.5" stroke-width="0.9"/>
<line x1="1216.5" y1="83.1" x2="1216.5" y2="232.0" stroke-width="0.9"/>
<line x1="1216.5" y1="245.0" x2="1216.5" y2="264.0" stroke-width="0.9"/>
<line x1="1216.5" y1="276.0" x2="1216.5" y2="297.0" stroke-width="0.9"/>
<line x1="1216.5" y1="316.0" x2="1216.5" y2="381.0" stroke-width="0.9"/>
<path d="M1062.2,249.6 L1079.2,249.6 L1078.2,244.2 L1095.2,253.0 L1078.2,261.8 L1079.2,256.4 L1062.2,256.4 Z" stroke-width="1" fill="#1a0f0d" stroke-linejoin="round"/>
<path d="M1329.3,249.6 L1346.3,249.6 L1345.3,244.2 L1362.3,253.0 L1345.3,261.8 L1346.3,256.4 L1329.3,256.4 Z" stroke-width="1" fill="#1a0f0d" stroke-linejoin="round"/>
<text transform="translate(1077.7 239.0)" font-size="16" text-anchor="middle" class="cj">进口</text>
<text transform="translate(1077.2 278.5)" font-size="16" text-anchor="middle" class="se">Inlet</text>
<text transform="translate(1346.6 239.0)" font-size="16" text-anchor="middle" class="cj">出口</text>
<text transform="translate(1346.6 276.5)" font-size="16" text-anchor="middle" class="se">Outlet</text>
<path d="M1088.5,399.5 L1106.5,399.5 L1106.5,363.5 L1326.5,363.5 L1326.5,399.5 L1344.5,399.5" stroke-width="1.0" fill="none"/>
<path d="M1088.5,403.5 L1110.5,403.5 L1110.5,368.5 M1322.5,368.5 L1322.5,403.5 L1344.5,403.5" stroke-width="1.0" fill="none"/>
<line x1="1106.9" y1="368.5" x2="1190.4" y2="368.5" stroke-width="1.0"/>
<line x1="1242.4" y1="368.5" x2="1326.4" y2="368.5" stroke-width="1.0"/>
<line x1="1190.4" y1="365.5" x2="1242.4" y2="365.5" stroke-width="0.9"/>
<line x1="1190.5" y1="363.5" x2="1190.5" y2="368.1" stroke-width="0.9"/>
<line x1="1242.5" y1="363.5" x2="1242.5" y2="368.1" stroke-width="0.9"/>
<line x1="1110.6" y1="392.5" x2="1322.6" y2="392.5" stroke-width="1.0"/>
<circle cx="1216.4" cy="383.7" r="3.2" stroke-width="0.9" fill="none"/>
<line x1="1211.0" y1="383.5" x2="1222.0" y2="383.5" stroke-width="0.6"/>
<line x1="1213.5" y1="383.7" x2="1213.5" y2="436.0" stroke-width="0.9"/>
<line x1="1219.5" y1="383.7" x2="1219.5" y2="436.0" stroke-width="0.9"/>
<line x1="1216.5" y1="381.0" x2="1216.5" y2="404.0" stroke-width="0.9"/>
<line x1="1181.4" y1="420.5" x2="1274.7" y2="420.5" stroke-width="0.9"/>
<polygon points="1213.6,420.5 1198.6,418.0 1198.6,423.0" fill="#1a0f0d" stroke="none"/>
<polygon points="1219.2,420.5 1234.2,418.0 1234.2,423.0" fill="#1a0f0d" stroke="none"/>
<text transform="translate(1256.8 416.5)" font-size="16" text-anchor="middle" class="d">d<tspan font-size="78%">2</tspan></text>
<line x1="1330.5" y1="399.5" x2="1330.5" y2="446.8" stroke-width="0.9"/>
<line x1="1334.5" y1="394.0" x2="1334.5" y2="446.8" stroke-width="0.9"/>
<line x1="1337.5" y1="399.5" x2="1337.5" y2="446.8" stroke-width="0.9"/>
<line x1="1298.8" y1="431.5" x2="1399.4" y2="431.5" stroke-width="0.9"/>
<polygon points="1330.5,431.9 1315.5,429.4 1315.5,434.4" fill="#1a0f0d" stroke="none"/>
<polygon points="1337.9,431.9 1352.9,429.4 1352.9,434.4" fill="#1a0f0d" stroke="none"/>
<text transform="translate(1386.0 427.5)" font-size="16" text-anchor="middle" class="d">d<tspan font-size="78%">1</tspan></text>
<line x1="1098.5" y1="395.0" x2="1098.5" y2="475.5" stroke-width="0.9"/>
<line x1="1334.5" y1="446.0" x2="1334.5" y2="475.5" stroke-width="0.9"/>
<line x1="1098.6" y1="459.5" x2="1334.4" y2="459.5" stroke-width="0.9"/>
<polygon points="1098.6,459.4 1113.6,456.9 1113.6,461.9" fill="#1a0f0d" stroke="none"/>
<polygon points="1334.4,459.4 1319.4,456.9 1319.4,461.9" fill="#1a0f0d" stroke="none"/>
<text transform="translate(1221.0 455.0)" font-size="16" text-anchor="middle" class="d">b<tspan font-size="78%">1</tspan></text>
<line x1="1089.5" y1="399.4" x2="1089.5" y2="505.8" stroke-width="0.9"/>
<line x1="1344.5" y1="399.4" x2="1344.5" y2="505.8" stroke-width="0.9"/>
<line x1="1089.0" y1="489.5" x2="1344.4" y2="489.5" stroke-width="0.9"/>
<polygon points="1089.0,489.7 1104.0,487.2 1104.0,492.2" fill="#1a0f0d" stroke="none"/>
<polygon points="1344.4,489.7 1329.4,487.2 1329.4,492.2" fill="#1a0f0d" stroke="none"/>
<text transform="translate(1222.5 485.5)" font-size="16" text-anchor="middle" class="d">b<tspan font-size="78%">2</tspan></text>
</g>
<g id="flanges">
<text transform="translate(1012.5 548.0)" font-size="16" text-anchor="middle" class="cj">进口法兰</text>
<text transform="translate(1015.0 565.0)" font-size="16.3" text-anchor="middle" class="se">Inlet flange</text>
<circle cx="1014.5" cy="672.9" r="68.9" stroke-width="2.0" fill="none"/>
<circle cx="1014.5" cy="672.9" r="43.1" stroke-width="2.0" fill="none"/>
<circle cx="1014.5" cy="672.9" r="61.0" stroke-width="0.8" fill="none" stroke-dasharray="13 4"/>
<circle cx="971.4" cy="629.8" r="5.5" stroke-width="1.2" fill="#fff"/>
<line x1="967.4" y1="625.8" x2="975.4" y2="633.8" stroke-width="0.6"/>
<line x1="967.4" y1="633.8" x2="975.4" y2="625.8" stroke-width="0.6"/>
<circle cx="971.4" cy="716.0" r="5.5" stroke-width="1.2" fill="#fff"/>
<line x1="967.4" y1="712.0" x2="975.4" y2="720.0" stroke-width="0.6"/>
<line x1="967.4" y1="720.0" x2="975.4" y2="712.0" stroke-width="0.6"/>
<circle cx="1057.6" cy="629.8" r="5.5" stroke-width="1.2" fill="#fff"/>
<line x1="1053.6" y1="625.8" x2="1061.6" y2="633.8" stroke-width="0.6"/>
<line x1="1053.6" y1="633.8" x2="1061.6" y2="625.8" stroke-width="0.6"/>
<circle cx="1057.6" cy="716.0" r="5.5" stroke-width="1.2" fill="#fff"/>
<line x1="1053.6" y1="712.0" x2="1061.6" y2="720.0" stroke-width="0.6"/>
<line x1="1053.6" y1="720.0" x2="1061.6" y2="712.0" stroke-width="0.6"/>
<line x1="939.0" y1="672.5" x2="1091.2" y2="672.5" stroke-width="0.9"/>
<line x1="1014.5" y1="591.7" x2="1014.5" y2="645.0" stroke-width="0.9"/>
<line x1="1014.5" y1="664.0" x2="1014.5" y2="682.0" stroke-width="0.9"/>
<line x1="1014.5" y1="703.0" x2="1014.5" y2="756.4" stroke-width="0.9"/>
<line x1="908.1" y1="605.5" x2="1014.5" y2="605.5" stroke-width="0.9"/>
<line x1="908.1" y1="742.5" x2="1014.5" y2="742.5" stroke-width="0.9"/>
<line x1="924.5" y1="605.5" x2="924.5" y2="742.1" stroke-width="0.9"/>
<polygon points="924.0,605.5 921.5,620.5 926.5,620.5" fill="#1a0f0d" stroke="none"/>
<polygon points="924.0,742.1 921.5,727.1 926.5,727.1" fill="#1a0f0d" stroke="none"/>
<text transform="translate(920.5 673.4) rotate(-90)" font-size="15" text-anchor="middle" class="d">A</text>
<line x1="953.5" y1="672.9" x2="953.5" y2="805.5" stroke-width="0.9"/>
<line x1="1075.5" y1="672.9" x2="1075.5" y2="805.5" stroke-width="0.9"/>
<line x1="953.4" y1="790.5" x2="1075.6" y2="790.5" stroke-width="0.9"/>
<polygon points="953.4,790.4 968.4,787.9 968.4,792.9" fill="#1a0f0d" stroke="none"/>
<polygon points="1075.6,790.4 1060.6,787.9 1060.6,792.9" fill="#1a0f0d" stroke="none"/>
<text transform="translate(1015.0 785.5)" font-size="15" text-anchor="middle" class="d">B</text>
<line x1="1014.5" y1="630.5" x2="1140.8" y2="630.5" stroke-width="0.9"/>
<line x1="1014.5" y1="717.5" x2="1140.8" y2="717.5" stroke-width="0.9"/>
<line x1="1125.5" y1="630.2" x2="1125.5" y2="717.4" stroke-width="0.9"/>
<polygon points="1125.2,630.2 1122.7,645.2 1127.7,645.2" fill="#1a0f0d" stroke="none"/>
<polygon points="1125.2,717.4 1122.7,702.4 1127.7,702.4" fill="#1a0f0d" stroke="none"/>
<text transform="translate(1119.0 673.4) rotate(-90)" font-size="15" text-anchor="middle" class="d">DN<tspan font-size="85%">s</tspan></text>
<line x1="1052.5" y1="574.0" x2="1052.5" y2="630.7" stroke-width="0.9"/>
<line x1="1063.5" y1="574.0" x2="1063.5" y2="630.7" stroke-width="0.9"/>
<line x1="1021.3" y1="589.5" x2="1115.1" y2="589.5" stroke-width="0.9"/>
<polygon points="1052.5,589.7 1037.5,587.2 1037.5,592.2" fill="#1a0f0d" stroke="none"/>
<polygon points="1063.5,589.7 1078.5,587.2 1078.5,592.2" fill="#1a0f0d" stroke="none"/>
<text transform="translate(1107.6 585.5)" font-size="15" text-anchor="middle" class="d">D</text>
<text transform="translate(1107.6 606.5)" font-size="15" text-anchor="middle" class="d">Z<tspan font-size="78%">1</tspan></text>
<text transform="translate(1309.5 549.5)" font-size="16" text-anchor="middle" class="cj">出口法兰</text>
<text transform="translate(1310.0 567.0)" font-size="16.3" text-anchor="middle" class="se">Outlet flange</text>
<circle cx="1314.6" cy="674.2" r="65.4" stroke-width="2.0" fill="none"/>
<circle cx="1314.6" cy="674.2" r="35.0" stroke-width="2.0" fill="none"/>
<circle cx="1314.6" cy="674.2" r="55.5" stroke-width="0.8" fill="none" stroke-dasharray="15 16"/>
<path d="M1281.1,637.4 L1277.8,640.7 L1273.0,640.7 L1269.7,637.4 L1269.7,632.6 L1273.0,629.3 L1277.8,629.3 L1281.1,632.6 Z" stroke-width="1.3" fill="#fff"/>
<line x1="1269.9" y1="629.5" x2="1280.9" y2="640.5" stroke-width="0.6"/>
<line x1="1271.9" y1="631.5" x2="1278.9" y2="638.5" stroke-width="0.6"/>
<line x1="1271.9" y1="638.5" x2="1278.9" y2="631.5" stroke-width="0.6"/>
<path d="M1281.1,715.8 L1277.8,719.1 L1273.0,719.1 L1269.7,715.8 L1269.7,711.0 L1273.0,707.7 L1277.8,707.7 L1281.1,711.0 Z" stroke-width="1.3" fill="#fff"/>
<line x1="1269.9" y1="718.9" x2="1280.9" y2="707.9" stroke-width="0.6"/>
<line x1="1271.9" y1="709.9" x2="1278.9" y2="716.9" stroke-width="0.6"/>
<line x1="1271.9" y1="716.9" x2="1278.9" y2="709.9" stroke-width="0.6"/>
<path d="M1359.5,637.4 L1356.2,640.7 L1351.4,640.7 L1348.1,637.4 L1348.1,632.6 L1351.4,629.3 L1356.2,629.3 L1359.5,632.6 Z" stroke-width="1.3" fill="#fff"/>
<line x1="1348.3" y1="640.5" x2="1359.3" y2="629.5" stroke-width="0.6"/>
<line x1="1350.3" y1="631.5" x2="1357.3" y2="638.5" stroke-width="0.6"/>
<line x1="1350.3" y1="638.5" x2="1357.3" y2="631.5" stroke-width="0.6"/>
<path d="M1359.5,715.8 L1356.2,719.1 L1351.4,719.1 L1348.1,715.8 L1348.1,711.0 L1351.4,707.7 L1356.2,707.7 L1359.5,711.0 Z" stroke-width="1.3" fill="#fff"/>
<line x1="1348.3" y1="707.9" x2="1359.3" y2="718.9" stroke-width="0.6"/>
<line x1="1350.3" y1="709.9" x2="1357.3" y2="716.9" stroke-width="0.6"/>
<line x1="1350.3" y1="716.9" x2="1357.3" y2="709.9" stroke-width="0.6"/>
<line x1="1241.6" y1="674.5" x2="1386.7" y2="674.5" stroke-width="0.9"/>
<line x1="1314.5" y1="601.7" x2="1314.5" y2="746.4" stroke-width="0.9"/>
<line x1="1208.2" y1="609.5" x2="1314.6" y2="609.5" stroke-width="0.9"/>
<line x1="1208.2" y1="739.5" x2="1314.6" y2="739.5" stroke-width="0.9"/>
<line x1="1224.5" y1="609.3" x2="1224.5" y2="739.3" stroke-width="0.9"/>
<polygon points="1224.8,609.3 1222.3,624.3 1227.3,624.3" fill="#1a0f0d" stroke="none"/>
<polygon points="1224.8,739.3 1222.3,724.3 1227.3,724.3" fill="#1a0f0d" stroke="none"/>
<text transform="translate(1217.5 673.9) rotate(-90)" font-size="15" text-anchor="middle" class="d">E</text>
<line x1="1258.5" y1="674.2" x2="1258.5" y2="797.9" stroke-width="0.9"/>
<line x1="1369.5" y1="674.2" x2="1369.5" y2="797.9" stroke-width="0.9"/>
<line x1="1258.5" y1="781.5" x2="1369.1" y2="781.5" stroke-width="0.9"/>
<polygon points="1258.5,781.6 1273.5,779.1 1273.5,784.1" fill="#1a0f0d" stroke="none"/>
<polygon points="1369.1,781.6 1354.1,779.1 1354.1,784.1" fill="#1a0f0d" stroke="none"/>
<text transform="translate(1313.8 776.0)" font-size="15" text-anchor="middle" class="d">F</text>
<line x1="1314.6" y1="639.5" x2="1443.3" y2="639.5" stroke-width="0.9"/>
<line x1="1314.6" y1="709.5" x2="1443.3" y2="709.5" stroke-width="0.9"/>
<line x1="1427.5" y1="639.5" x2="1427.5" y2="709.1" stroke-width="0.9"/>
<polygon points="1427.7,639.5 1425.2,654.5 1430.2,654.5" fill="#1a0f0d" stroke="none"/>
<polygon points="1427.7,709.1 1425.2,694.1 1430.2,694.1" fill="#1a0f0d" stroke="none"/>
<text transform="translate(1421.0 672.9) rotate(-90)" font-size="15" text-anchor="middle" class="d">DN<tspan font-size="85%">d</tspan></text>
<line x1="1347.5" y1="579.9" x2="1347.5" y2="635.2" stroke-width="0.9"/>
<line x1="1359.5" y1="579.9" x2="1359.5" y2="635.2" stroke-width="0.9"/>
<line x1="1315.3" y1="596.5" x2="1410.1" y2="596.5" stroke-width="0.9"/>
<polygon points="1347.5,596.0 1332.5,593.5 1332.5,598.5" fill="#1a0f0d" stroke="none"/>
<polygon points="1359.3,596.0 1374.3,593.5 1374.3,598.5" fill="#1a0f0d" stroke="none"/>
<text transform="translate(1402.6 592.0)" font-size="15" text-anchor="middle" class="d">H</text>
<text transform="translate(1401.3 613.0)" font-size="15" text-anchor="middle" class="d">Z<tspan font-size="78%">2</tspan></text>
</g>
</svg>
<div class="h1" style="top:849px">底座规格表</div>
<div class="h2" style="top:872px">Size of base plate</div>
<table id="t1"><colgroup><col style="width:97px"><col style="width:50px"><col style="width:50px"><col style="width:50px"><col style="width:100px"><col style="width:50px"><col style="width:50px"><col style="width:50px"><col style="width:50px"><col style="width:50px"><col style="width:50px"><col style="width:51px"></colgroup><tr class="r1" style="height:44px"><td rowspan="2" style="background:#d3e5f6"><div class="cj" style="font-size:19px;line-height:22px;margin-top:0px">底座规格</div><div class="se" style="font-size:15.5px;line-height:17.5px;color:#231815;margin-top:3px">Size of<br>base plate</div></td><td colspan="11" style="padding-left:20px"><span class="cj" style="font-size:19px;letter-spacing:8px;position:relative;top:3px">底座尺寸</span><span style="font-size:17px;color:#4a4543;position:relative;top:3px;margin:0 5px 0 2px">/ </span><span class="se" style="font-size:16.2px;position:relative;top:3px;color:#231815">Base plate dimension</span></td></tr><tr class="r2" style="height:45px"><td style="padding-top:4px">b<small>1</small></td><td style="padding-top:4px">b<small>2</small></td><td style="padding-top:4px">d<small>1</small></td><td style="padding-top:4px">d<small>2</small></td><td style="padding-top:4px">h<small>1</small></td><td style="padding-top:4px">h<small>2</small></td><td style="padding-top:4px">l<small>1</small></td><td style="padding-top:4px">l<small>2</small></td><td style="padding-top:4px">l<small>3</small></td><td style="padding-top:4px">l<small>4</small></td><td style="padding-top:4px">l<small>5</small></td></tr><tr class="r3" style="height:45px"><td style="font-weight:700;font-size:18px;padding-top:8px;letter-spacing:1px;color:#231815">13.1</td><td style="padding-top:8px;font-size:18.5px;letter-spacing:1.1px">575</td><td style="padding-top:8px;font-size:18.5px;letter-spacing:1.1px">635</td><td style="padding-top:8px;font-size:18.5px;letter-spacing:1.1px">25</td><td style="padding-top:8px;font-size:18.5px;letter-spacing:1.1px">M18×1.5</td><td style="padding-top:8px;font-size:18.5px;letter-spacing:1.1px">35</td><td style="padding-top:8px;font-size:18.5px;letter-spacing:1.1px">115</td><td style="padding-top:8px;font-size:18.5px;letter-spacing:1.1px">1720</td><td style="padding-top:8px;font-size:18.5px;letter-spacing:1.1px">1540</td><td style="padding-top:8px;font-size:18.5px;letter-spacing:1.1px">-</td><td style="padding-top:8px;font-size:18.5px;letter-spacing:1.1px">500</td><td style="padding-top:8px;font-size:18.5px;letter-spacing:1.1px">90</td></tr></table>
<div class="h1" style="top:1041px">泵尺寸表</div>
<div class="h2" style="top:1065px">Dimension table of pumps</div>
<table id="t2"><colgroup><col style="width:98px"><col style="width:89px"><col style="width:89px"><col style="width:90px"><col style="width:89px"><col style="width:89px"><col style="width:89px"><col style="width:89px"><col style="width:90px"><col style="width:89px"><col style="width:88px"><col style="width:90px"><col style="width:89px"><col style="width:89px"><col style="width:90px"></colgroup><tr class="r1" style="height:25px"><td rowspan="2" style="background:#dfeeec"><div class="cj" style="font-size:19px;line-height:20px;margin-top:3px">泵规格</div><div class="se" style="font-size:15.6px;line-height:15px;color:#231815;margin-top:-1px">Pump size</div></td><td colspan="5" style="padding-top:3px"><span class="cj" style="font-size:19px">进口法兰</span><span style="font-size:17px;color:#4a4543;margin:0 1px 0 3px"> / </span><span class="se" style="font-size:16.3px;color:#231815">inlet flange</span><span style="font-size:18.5px;letter-spacing:0.7px"> DIN2532=GB2555</span></td><td colspan="5" style="padding-top:3px"><span class="cj" style="font-size:19px">出口法兰</span><span style="font-size:17px;color:#4a4543;margin:0 1px 0 3px"> / </span><span class="se" style="font-size:16.3px;color:#231815">outlet flange</span><span style="font-size:18.5px;letter-spacing:0.7px"> DIN2535=GB2555</span></td><td colspan="4" style="padding-top:3px"><span class="cj" style="font-size:19px;letter-spacing:6.5px">泵尺寸表</span><span style="font-size:17px;color:#4a4543">/ </span><span class="se" style="font-size:16.2px;color:#231815">Table of pump dimension</span></td></tr><tr class="r2" style="height:25px"><td style="font-size:18.5px;padding-top:5px">DN<small>s</small></td><td style="font-size:18.5px;padding-top:5px">A</td><td style="font-size:18.5px;padding-top:5px">B</td><td style="font-size:18.5px;padding-top:5px">D</td><td style="font-size:18.5px;padding-top:5px">Z<small>1</small></td><td style="font-size:18.5px;padding-top:5px">DN<small>d</small></td><td style="font-size:18.5px;padding-top:5px">E</td><td style="font-size:18.5px;padding-top:5px">F</td><td style="font-size:18.5px;padding-top:5px">H</td><td style="font-size:18.5px;padding-top:5px">Z<small>2</small></td><td style="font-size:18.5px;padding-top:5px">g</td><td style="font-size:18.5px;padding-top:5px">k<small>2</small></td><td style="font-size:18.5px;padding-top:5px">n</td><td style="font-size:18.5px;padding-top:5px">o</td></tr><tr class="r3" style="height:29px"><td style="font-weight:700;font-size:18px;color:#231815;padding-top:5px;letter-spacing:0.3px">SNH1700</td><td style="font-size:18.5px;padding-top:5px;letter-spacing:0.8px">200</td><td style="font-size:18.5px;padding-top:5px;letter-spacing:0.8px">340</td><td style="font-size:18.5px;padding-top:5px;letter-spacing:0.8px">295</td><td style="font-size:18.5px;padding-top:5px;letter-spacing:0.8px">23</td><td style="font-size:18.5px;padding-top:5px;letter-spacing:0.8px">8</td><td style="font-size:18.5px;padding-top:5px;letter-spacing:0.8px">150</td><td style="font-size:18.5px;padding-top:5px;letter-spacing:0.8px">300</td><td style="font-size:18.5px;padding-top:5px;letter-spacing:0.8px">250</td><td style="font-size:18.5px;padding-top:5px;letter-spacing:0.8px">27</td><td style="font-size:18.5px;padding-top:5px;letter-spacing:0.8px">8</td><td style="font-size:18.5px;padding-top:5px;letter-spacing:0.8px">480</td><td style="font-size:18.5px;padding-top:5px;letter-spacing:0.8px">1030</td><td style="font-size:18.5px;padding-top:5px;letter-spacing:0.8px">662</td><td style="font-size:18.5px;padding-top:5px;letter-spacing:0.8px">470</td></tr></table>
</body></html>
